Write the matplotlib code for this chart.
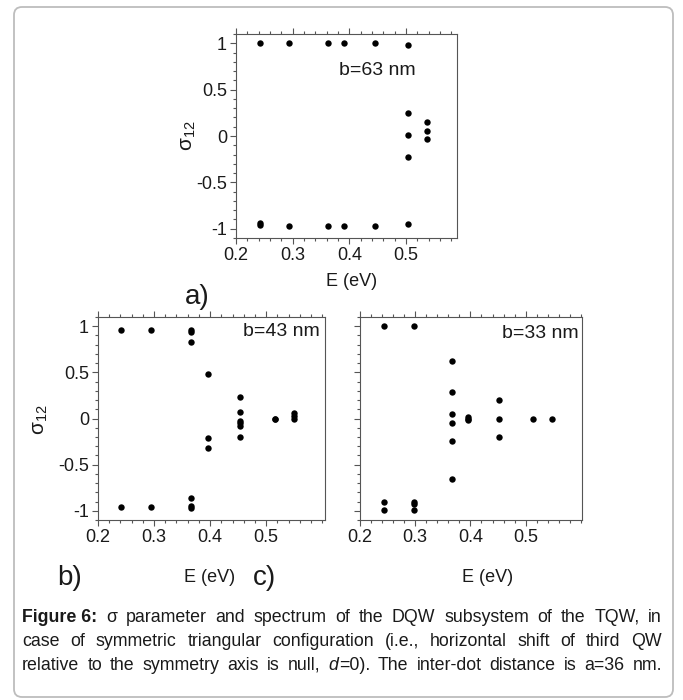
import matplotlib
matplotlib.use('Agg')
import matplotlib.pyplot as plt
from matplotlib import font_manager
from matplotlib.patches import FancyBboxPatch
from matplotlib.ticker import MultipleLocator

# energies (eV) and sigma_12 values
E_a = [0.242, 0.242, 0.242, 0.294, 0.294, 0.362, 0.362, 0.390, 0.390,
       0.445, 0.445, 0.504, 0.504, 0.504, 0.504, 0.504, 0.537, 0.537, 0.537]
S_a = [1.0, -0.94, -0.965, 1.0, -0.97, 1.0, -0.97, 1.0, -0.97,
       1.0, -0.97, 0.98, 0.25, 0.01, -0.23, -0.95, 0.15, 0.05, -0.03]

E_b = [0.241, 0.241, 0.295, 0.295, 0.366, 0.366, 0.366, 0.366, 0.366, 0.366,
       0.396, 0.396, 0.396, 0.453, 0.453, 0.453, 0.453, 0.453, 0.453,
       0.516, 0.516, 0.55, 0.55, 0.55]
S_b = [0.957, -0.957, 0.957, -0.957, 0.96, 0.94, 0.83, -0.86, -0.95, -0.97,
       0.477, -0.206, -0.32, 0.23, 0.07, -0.03, -0.05, -0.08, -0.2,
       0.0, -0.01, 0.06, 0.03, 0.0]

E_c = [0.244, 0.244, 0.244, 0.297, 0.297, 0.297, 0.297,
       0.367, 0.367, 0.367, 0.367, 0.367, 0.367,
       0.396, 0.396, 0.396, 0.452, 0.452, 0.452, 0.514, 0.547]
S_c = [1.0, -0.91, -0.99, 1.0, -0.90, -0.93, -0.99,
       0.625, 0.29, 0.05, -0.05, -0.24, -0.66,
       0.02, 0.0, -0.02, 0.2, 0.0, -0.2, 0.0, 0.0]

panel_tags = ['a)', 'b)', 'c)']
b_labels = ['b=63 nm', 'b=43 nm', 'b=33 nm']
x_ticks = [0.2, 0.3, 0.4, 0.5]
y_ticks = [-1, -0.5, 0, 0.5, 1]
y_ticklabels = ['-1', '-0.5', '0', '0.5', '1']

caption = [
    [[('Figure 6:', 'bold')], [('σ', 'normal')], [('parameter', 'normal')], [('and', 'normal')],
     [('spectrum', 'normal')], [('of', 'normal')], [('the', 'normal')], [('DQW', 'normal')],
     [('subsystem', 'normal')], [('of', 'normal')], [('the', 'normal')], [('TQW,', 'normal')],
     [('in', 'normal')]],
    [[(w, 'normal')] for w in
     'case of symmetric triangular configuration (i.e., horizontal shift of third QW'.split()],
    [[(w, 'normal')] for w in 'relative to the symmetry axis is null,'.split()]
    + [[('d', 'italic'), ('=0).', 'normal')]]
    + [[(w, 'normal')] for w in 'The inter-dot distance is a=36 nm.'.split()],
]

names = {f.name for f in font_manager.fontManager.ttflist}
chart_font = 'Liberation Sans Narrow' if 'Liberation Sans Narrow' in names else 'Liberation Sans'
plt.rcParams['font.family'] = [chart_font, 'DejaVu Sans']
plt.rcParams['mathtext.fontset'] = 'custom'
plt.rcParams['mathtext.rm'] = chart_font

W, H = 683, 700
fig = plt.figure(figsize=(W / 100, H / 100), dpi=100)


def fx(x):
    return x / W


def fy(y):
    return 1 - y / H


# axes boxes in pixels: left, top, right, bottom
boxes = [(236, 34, 457, 238), (98, 317, 325, 520), (360, 317, 582, 520)]
xmax = [0.59, 0.605, 0.602]
data = [(E_a, S_a), (E_b, S_b), (E_c, S_c)]
spine_col = '#555555'
txt_col = '#1a1a1a'

axes = []
for i, (l, t, r, b) in enumerate(boxes):
    ax = fig.add_axes([fx(l), fy(b), (r - l) / W, (b - t) / H])
    E, S = data[i]
    ax.plot(E, S, 'o', color='black', ms=4.6, mec='none')
    ax.set_xlim(0.2, xmax[i])
    ax.set_ylim(-1.1, 1.1)
    ax.set_xticks(x_ticks)
    ax.set_xticklabels([str(v) for v in x_ticks])
    ax.set_yticks(y_ticks)
    ax.set_yticklabels(y_ticklabels if i < 2 else [])
    ax.xaxis.set_minor_locator(MultipleLocator(0.02))
    ax.yaxis.set_minor_locator(MultipleLocator(0.1))
    ax.tick_params(which='both', direction='out', top=True, right=False,
                   color=spine_col, width=0.8, labelsize=13, labelcolor=txt_col, pad=2)
    ax.tick_params(which='major', length=4.5)
    ax.tick_params(which='minor', length=2.5)
    for sp in ax.spines.values():
        sp.set_color(spine_col)
        sp.set_linewidth(0.8)
    axes.append(ax)

axes[0].text(0.64, 0.82, b_labels[0], transform=axes[0].transAxes, ha='center', va='center',
             fontsize=14, color=txt_col, weight='medium')
axes[1].text(0.975, 0.93, b_labels[1], transform=axes[1].transAxes, ha='right', va='center',
             fontsize=14, color=txt_col, weight='medium')
axes[2].text(0.985, 0.92, b_labels[2], transform=axes[2].transAxes, ha='right', va='center',
             fontsize=14, color=txt_col, weight='medium')

# axis titles and panel tags
ylab = r'$\mathregular{\sigma_{12}}$'
fig.text(fx(188), fy(136), ylab, rotation=90, ha='center', va='center', fontsize=15, color=txt_col)
fig.text(fx(40), fy(420), ylab, rotation=90, ha='center', va='center', fontsize=15, color=txt_col)
for cx, cy in [(352, 281), (210, 577), (488, 577)]:
    fig.text(fx(cx), fy(cy), 'E (eV)', ha='center', va='center', fontsize=13, color=txt_col)
for tag, (cx, cy) in zip(panel_tags, [(197, 297), (70, 578), (265, 578)]):
    fig.text(fx(cx), fy(cy), tag, ha='center', va='center', fontsize=20, color=txt_col)

# rounded frame
frame = FancyBboxPatch((14 / 100, (H - 697) / 100), (673 - 14) / 100, (697 - 7) / 100,
                       boxstyle='round,pad=0,rounding_size=0.08', transform=fig.dpi_scale_trans,
                       fill=False, ec='#bdbdbd', lw=1.3)
fig.patches.append(frame)

# justified caption
renderer = fig.canvas.get_renderer()
x_left, x_right = 22, 662
for k, line in enumerate(caption):
    y = fy(622 + 24 * k)
    words = []
    for word in line:
        parts = []
        for s, style in word:
            t = fig.text(0, y, s, fontsize=12.8, color=txt_col, va='baseline',
                         family=['Liberation Sans', 'DejaVu Sans'],
                         weight='bold' if style == 'bold' else 'normal',
                         style='italic' if style == 'italic' else 'normal')
            parts.append((t, t.get_window_extent(renderer).width))
        words.append(parts)
    total = sum(w for parts in words for _, w in parts)
    gap = (x_right - x_left - total) / (len(words) - 1)
    x = x_left
    for parts in words:
        for t, w in parts:
            t.set_x(fx(x))
            x += w
        x += gap

fig.savefig('out.png', dpi=100)
